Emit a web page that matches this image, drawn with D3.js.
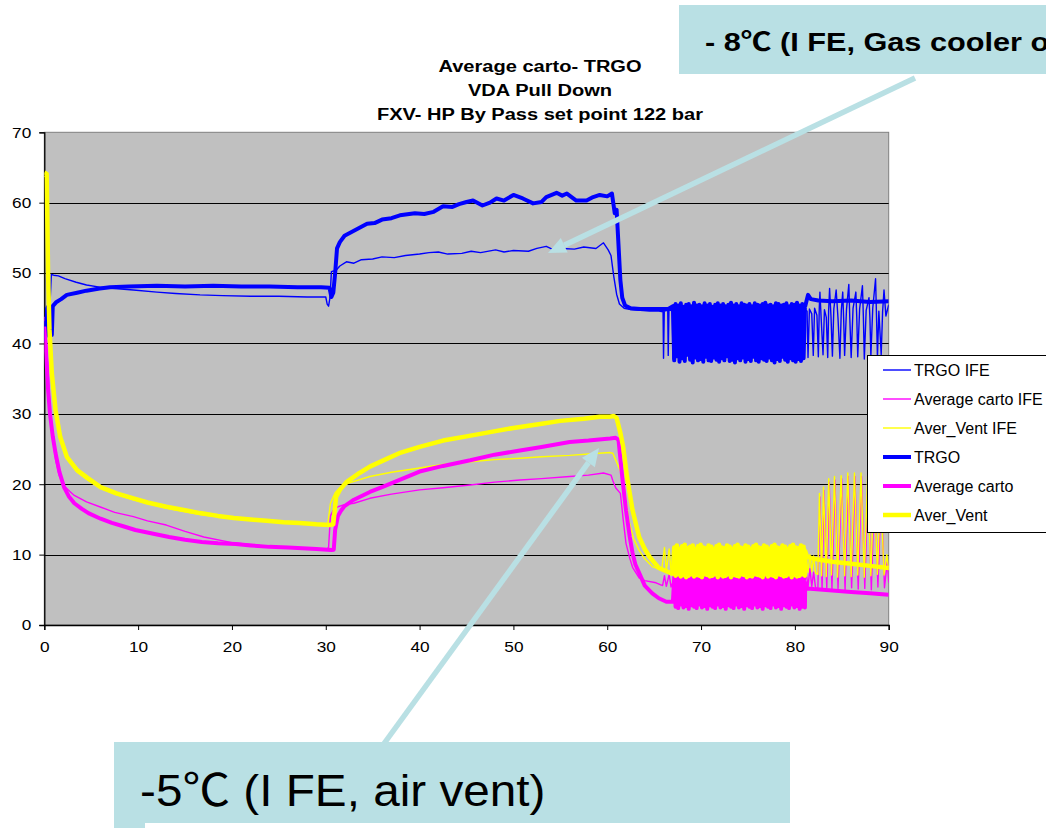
<!DOCTYPE html>
<html><head><meta charset="utf-8">
<script src="https://cdn.jsdelivr.net/npm/d3@7"></script>
<style>body{margin:0;background:#fff;overflow:hidden}svg{display:block}</style>
</head><body><svg id="c" width="1046" height="828"></svg>
<script>
// ---------------- DATA ----------------
const titleLines = ["Average carto- TRGO", "VDA Pull Down", "FXV- HP By Pass set point 122 bar"];
const yTicks = [0, 10, 20, 30, 40, 50, 60, 70];
const xTicks = [0, 10, 20, 30, 40, 50, 60, 70, 80, 90];
const seriesNames = ["TRGO IFE", "Average carto IFE", "Aver_Vent IFE", "TRGO", "Average carto", "Aver_Vent"];
const noteTop = "- 8\u2103 (I FE, Gas cooler outlet)";
const noteBottom = "-5\u2103 (I FE, air vent)";

// thin series (IFE) : [minutes, value]
const trgoIFE = [[0,40.2],[0.2,43.5],[0.4,44.8],[0.6,45.3],[0.75,49.8],[1.0,49.7],[1.5,49.6],[2.2,49.2],[3.4,48.7],[4.5,48.3],[5.9,48.0],[7.5,47.8],[9.5,47.6],[12,47.3],[14,47.1],[16.6,46.9],[19,46.8],[22,46.7],[25,46.7],[28,46.6],[30.0,46.6],[30.15,45.6],[30.3,45.3],[30.45,46.5],[30.6,50.2],[31.1,50.4],[31.5,51.0],[32.2,51.6],[33.0,51.4],[33.8,51.9],[35,52.0],[36,52.3],[37.3,52.2],[38.5,52.5],[40,52.7],[41,52.9],[42,53.0],[43,52.7],[44.5,52.8],[45.5,53.1],[46.5,52.9],[48.1,53.3],[49,53.0],[50,53.2],[51.6,53.1],[52.5,53.5],[53.5,53.8],[54.3,53.3],[55.2,53.5],[56.5,53.4],[57.5,53.7],[58.8,53.5],[59.6,54.3],[60.1,53.3],[60.4,52.5],[60.7,49.5],[61.0,47.0],[61.3,45.6],[61.8,45.0],[62.5,44.8],[63.5,44.7],[64.5,44.6],[65.5,44.6],[65.95,44.5],[66.0,37.9],[66.08,44.6],[66.45,44.7],[66.5,38.3],[66.58,44.8],[66.95,44.6],[67.0,37.8],[67.08,44.7],[70,44.8],[75,44.7],[81.0,44.8],[81.3,44.6],[81.4,38.0],[81.55,44.9],[81.8,44.2],[81.96,38.3],[82.1,45.0],[82.35,44.0],[82.5,38.1],[82.6,45.0],[82.67,47.3],[82.8,43.6],[83.0,38.4],[83.15,44.8],[83.35,43.7],[83.5,38.0],[83.6,44.7],[83.7,47.8],[83.85,43.8],[84.0,38.2],[84.15,44.9],[84.4,47.6],[84.6,43.5],[84.8,37.9],[84.95,44.7],[85.1,47.3],[85.2,43.4],[85.3,38.3],[85.5,44.8],[85.75,48.4],[85.85,43.7],[86.0,38.0],[86.2,45.0],[86.5,47.3],[86.6,43.6],[86.7,38.1],[86.9,44.9],[87.2,48.2],[87.3,43.8],[87.4,37.8],[87.6,44.7],[87.9,46.5],[88.0,43.5],[88.1,38.2],[88.3,45.0],[88.6,49.2],[88.7,43.9],[88.8,38.0],[88.95,44.6],[89.2,38.4],[89.35,44.5],[89.5,47.6],[89.7,43.9],[90.0,45.5]];

const avgCartoIFE = [[0,43.8],[0.2,41],[0.4,36],[0.6,31],[0.9,26.5],[1.2,23.5],[1.6,21.2],[2.1,19.8],[2.7,19.0],[3.2,18.4],[4.5,17.5],[5.9,16.8],[7.5,16.0],[9.5,15.4],[11,14.8],[13,14.2],[15,13.3],[17,12.5],[20,11.7],[23,11.3],[26,11.0],[28,10.9],[30.0,10.7],[30.3,11.0],[30.5,15.5],[30.8,16.3],[31.3,16.8],[32,17.1],[33,17.3],[34.7,18.0],[37,18.6],[40,19.2],[42.5,19.5],[45.4,19.9],[48,20.3],[50.7,20.6],[53,20.8],[56,21.1],[58,21.3],[59.6,21.6],[60.4,21.3],[60.6,20.5],[60.9,19.5],[61.4,18.7],[61.7,15],[62,11.6],[62.4,9.5],[62.7,8.2],[63.4,6.7],[64,6.3],[65.2,6.0],[65.9,5.6],[66.1,7.0],[66.3,5.5],[66.6,7.2],[66.8,5.4],[67.2,6.8],[67.4,5.3],[70,5.5],[75,5.4],[81,5.5],[81.2,7.6],[81.4,5.4],[81.6,8.0],[81.8,5.5],[82.0,7.5],[82.2,5.3],[82.45,5.1],[82.67,18.2],[82.9,5.0],[83.1,19.1],[83.4,5.3],[83.66,20.3],[83.95,5.1],[84.27,20.6],[84.6,5.2],[84.98,20.8],[85.35,5.0],[85.69,21.1],[86.05,5.3],[86.4,21.1],[86.75,5.1],[87.1,21.1],[87.45,5.2],[87.8,20.7],[88.15,5.0],[88.5,20.0],[88.85,5.4],[89.2,19.0],[89.55,5.3],[89.85,9.0],[90,6.0]];

const averVentIFE = [[0,63.8],[0.25,63.5],[0.35,54],[0.5,45],[0.7,38],[0.9,33.5],[1.2,30.0],[1.7,26.3],[2.4,23.6],[3.5,21.7],[4.6,20.6],[6,19.4],[7.7,18.5],[9.5,17.8],[13,16.6],[16.6,15.7],[20.2,15.1],[23.7,14.7],[27.2,14.4],[30.0,14.1],[30.2,14.2],[30.5,17.3],[31.0,18.8],[31.5,19.5],[32.5,20.2],[34.7,21.1],[37,21.7],[40,22.3],[42.5,22.8],[45.4,23.2],[48,23.5],[50.7,23.7],[53,23.9],[56,24.1],[58,24.3],[60.3,24.5],[60.6,24.4],[61.2,22.5],[61.7,21.0],[62.3,14.9],[62.8,12.3],[63.4,10.6],[64.0,9.4],[64.8,8.3],[65.8,7.8],[66.1,11.0],[66.3,7.7],[66.6,10.8],[66.8,7.6],[67.0,7.5],[70,7.6],[75,7.7],[81,7.8],[81.2,9.6],[81.4,7.5],[81.6,10.0],[81.8,7.6],[82.0,9.8],[82.2,7.4],[82.45,7.2],[82.62,18.7],[82.85,7.0],[83.05,19.6],[83.35,6.9],[83.61,20.8],[83.9,7.1],[84.22,21.1],[84.55,6.8],[84.93,21.2],[85.3,7.0],[85.64,21.6],[86.0,6.9],[86.35,21.6],[86.7,7.1],[87.05,21.6],[87.4,6.8],[87.75,21.2],[88.1,7.0],[88.45,20.5],[88.8,7.2],[89.15,19.5],[89.5,7.1],[89.8,10.0],[90,7.8]];

// thick series : [minutes, value]
const trgo = [[0,43.2],[0.15,41.0],[0.3,45.0],[0.5,45.4],[0.7,44.8],[0.8,41.2],[0.9,45.3],[1.3,45.9],[1.8,46.3],[2.4,46.9],[3.5,47.2],[4.5,47.5],[5.9,47.8],[7,48.0],[9,48.1],[12,48.2],[15,48.1],[18,48.2],[21,48.1],[24,48.1],[27,48.0],[29.5,48.0],[30.4,47.9],[30.6,46.6],[30.8,47.2],[31.0,50.0],[31.2,53.5],[31.5,54.4],[32.0,55.3],[33,56.0],[34.4,57.0],[35.2,57.1],[36,57.6],[37,57.8],[37.9,58.2],[39.5,58.5],[40.5,58.4],[41.5,58.7],[42.5,59.5],[43.5,59.4],[44.2,59.8],[45,60.1],[45.7,60.3],[46.7,59.6],[47.5,60.0],[48.2,60.6],[49,60.3],[50,61.1],[51,60.6],[52.1,59.9],[53,60.1],[53.5,60.8],[54.6,61.4],[55.2,61.0],[55.7,61.3],[56.7,60.3],[57.8,60.3],[58.5,60.8],[59.2,61.1],[60.0,60.9],[60.5,61.3],[60.8,58.5],[61.0,59.0],[61.2,54.0],[61.4,49.0],[61.6,46.5],[61.9,45.4],[62.5,45.0],[63.5,44.9],[65,44.9],[66.5,44.9]];
const trgoAfter = [[81.1,45.3],[81.4,46.9],[81.7,46.3],[82.5,46.1],[84,46.0],[86,46.1],[88,45.9],[90,46.0]];
const trgoCycling = [45.3,37.6,45.6,38.2,45.4,37.4,45.7,37.9,45.2,37.5,45.5,38.4,45.6,37.7,45.3,37.3,45.8,38.0,45.4,37.6,45.5,37.8,45.3,37.4,45.7,38.1,45.4,37.6,45.6,37.5,45.2,38.0,45.5,37.7,45.7,37.4,45.4,37.9,45.6,37.6,45.3,38.2,45.5,37.5,45.8,37.7,45.4,37.3,45.6,37.9,45.3,37.6,45.7,38.0,45.5,37.4,45.4,37.8,45.6,37.5,45.3,38.1,45.7,37.6,45.5,37.4,45.4,37.9,45.6,37.7,45.8,37.5,45.4,38.0,45.5,37.6,45.3,37.3,45.7,37.8,45.6,37.5,45.4,38.1,45.5,37.7,45.7,37.4,45.3,37.9,45.6,37.6,45.5,37.4,45.8,37.8,45.4,37.5,45.6,37.9,45.3];

const avgCarto = [[0,42.4],[0.2,38.5],[0.4,33.5],[0.6,30.1],[0.9,26.8],[1.2,24.4],[1.6,21.8],[2.1,19.6],[2.6,18.3],[3.2,17.3],[4.0,16.5],[4.7,15.9],[6,15.1],[7.2,14.5],[8.5,14.0],[9.7,13.5],[11.5,13.0],[13.3,12.5],[15,12.1],[16.8,11.8],[18.5,11.6],[20.4,11.5],[22,11.3],[24,11.1],[26,11.0],[27.5,10.9],[29,10.8],[30.6,10.65],[30.85,10.7],[31.0,13.5],[31.3,15.5],[31.6,16.2],[32.0,16.9],[33.0,17.8],[34.7,18.9],[36,19.6],[38,20.7],[40,21.8],[42.5,22.6],[45.4,23.4],[48,24.2],[50.7,24.8],[53,25.3],[56,26.0],[58,26.2],[60.3,26.5],[60.9,26.6],[61.2,26.3],[61.6,21.0],[62.0,16.3],[62.4,12.5],[62.7,10.2],[63.0,8.6],[63.4,7.4],[64.0,5.6],[64.8,4.5],[65.5,3.8],[66.3,3.3]];
const avgCartoAfter = [[81.1,6.0],[81.3,5.2],[82,5.1],[84,4.9],[86,4.7],[88,4.5],[90,4.3]];
const avgCartoCycling = [3.3,6.8,2.6,7.0,2.4,6.6,2.9,6.9,2.5,7.1,2.7,6.7,2.3,6.8,2.8,7.0,2.6,6.6,2.4,6.9,2.9,7.1,2.5,6.7,2.7,6.8,2.3,7.0,2.8,6.6,2.6,6.9,2.4,7.1,2.9,6.7,2.5,6.8,2.7,7.0,2.3,6.6,2.8,6.9,2.6,7.1,2.4,6.7,2.9,6.8,2.5,7.0,2.7,6.6,2.3,6.9,2.8,7.1,2.6,6.7,2.4,6.8,2.9,7.0,2.5,6.6,2.7,6.9,2.3,7.1,2.8,6.7,2.6,6.8,2.4,7.0,2.9,6.6,2.5,6.9,2.7,7.1,2.3,6.7,2.8,6.8,2.6,7.0,2.4,6.6,2.9,6.9,2.5,7.1,2.7,6.7,2.3,6.8,2.6,7.0,2.5];

const averVent = [[0,64.3],[0.25,64.1],[0.32,58],[0.4,50],[0.55,42],[0.8,35.8],[1.2,30.5],[1.7,26.7],[2.4,23.9],[3.5,22.0],[4.6,20.9],[6,19.6],[7.7,18.7],[9.5,18.0],[11,17.4],[13,16.8],[15,16.3],[16.6,15.9],[18.5,15.5],[20.2,15.2],[22,15.0],[23.7,14.8],[25.5,14.6],[27.2,14.5],[29,14.3],[30.4,14.2],[30.8,14.3],[31.1,18.2],[31.5,19.2],[32.2,20.3],[33.6,21.6],[34.7,22.5],[36.5,23.6],[38,24.5],[40,25.3],[42.5,26.2],[45,26.8],[47.5,27.4],[50,28.0],[52.5,28.5],[55,29.0],[57.5,29.3],[59.2,29.6],[60.3,29.6],[60.7,29.7],[61.0,29.4],[61.4,27.3],[61.7,25.3],[62.1,21.1],[62.7,16.3],[63.4,12.5],[64.0,10.8],[64.5,9.7],[65.5,8.1],[66.9,7.3]];
const averVentAfter = [[81.1,10.5],[81.3,9.7],[82,9.4],[84,9.0],[86,8.7],[88,8.4],[90,8.1]];
const averVentCycling = [7.3,11.0,7.0,11.3,7.2,10.8,6.9,11.2,7.1,11.4,6.8,10.9,7.0,11.1,7.2,11.3,6.9,10.8,7.1,11.2,7.0,11.4,6.8,11.0,7.2,10.9,7.1,11.3,6.9,11.1,7.0,10.8,7.2,11.2,6.8,11.4,7.1,11.0,6.9,10.9,7.0,11.3,7.2,11.1,6.8,10.8,7.1,11.2,7.0,11.4,6.9,11.0,7.2,10.9,7.1,11.3,6.8,11.1,7.0,10.8,6.9,11.2,7.2,11.4,7.1,11.0,7.0,10.9,6.8,11.3,7.2,11.1,6.9,10.8,7.1,11.2,7.0,11.4,6.8,11.0,7.2,10.9,7.1,11.3,6.9,11.1,7.0,10.8,7.2,11.2,6.8,11.4,7.1,11.0,6.9,10.9,7.0,11.3,7.2,11.1,7.0];
const cyclingWindow = [67.0, 81.07];

// ---------------- CHART ----------------
const W = 1046, H = 828;
const plot = {left: 44.3, right: 888.7, top: 132.3, bottom: 625};
const svg = d3.select("#c");
const FONT = "'Liberation Sans', Arial, 'Noto Sans CJK SC', sans-serif";

const x = d3.scaleLinear().domain([0, 90]).range([plot.left, plot.right]);
const y = d3.scaleLinear().domain([0, 70]).range([plot.bottom, plot.top]);

function withCycling(before, cyc, after) {
  const [a, b] = cyclingWindow;
  const mid = cyc.map((v, i) => [a + i * (b - a) / (cyc.length - 1), v]);
  return before.concat(mid, after);
}

svg.append("rect").attr("width", W).attr("height", H).attr("fill", "#fff");
svg.append("rect").attr("x", plot.left).attr("y", plot.top)
  .attr("width", plot.right - plot.left).attr("height", plot.bottom - plot.top)
  .attr("fill", "#C0C0C0").attr("stroke", "#808080").attr("stroke-width", 1);

svg.append("g").selectAll("line").data(yTicks.filter(d => d > 0 && d < 70)).join("line")
  .attr("x1", plot.left).attr("x2", plot.right)
  .attr("y1", d => Math.round(y(d)) + 0.5).attr("y2", d => Math.round(y(d)) + 0.5)
  .attr("stroke", "#000").attr("stroke-width", 1);

const sx = 1.15;
const yAxis = d3.axisLeft(y).tickValues(yTicks).tickSize(5).tickPadding(8);
const xAxis = d3.axisBottom(x).tickValues(xTicks).tickSize(5).tickPadding(11);
const gy = svg.append("g").attr("transform", `translate(${plot.left},0)`).call(yAxis);
const gx = svg.append("g").attr("transform", `translate(0,${plot.bottom})`).call(xAxis);
[gy, gx].forEach(g => {
  g.select(".domain").attr("stroke", "#000").attr("stroke-width", 1.3);
  g.selectAll(".tick line").attr("stroke", "#000");
  g.selectAll("text").attr("font-family", FONT).attr("font-size", 15).attr("fill", "#000");
});
gy.selectAll(".tick text").attr("x", -13 / sx).attr("transform", `scale(${sx},1)`);
gx.selectAll(".tick text").attr("transform", `scale(${sx},1)`);

svg.append("clipPath").attr("id", "pc").append("rect")
  .attr("x", plot.left).attr("y", plot.top - 2)
  .attr("width", plot.right - plot.left).attr("height", plot.bottom - plot.top + 2);

const line = d3.line().x(d => x(d[0])).y(d => y(d[1]));
const series = [
  {name: seriesNames[0], data: trgoIFE, color: "#0000FF", w: 1.4},
  {name: seriesNames[1], data: avgCartoIFE, color: "#FF00FF", w: 1.4},
  {name: seriesNames[2], data: averVentIFE, color: "#FFFF00", w: 1.4},
  {name: seriesNames[3], data: withCycling(trgo, trgoCycling, trgoAfter), color: "#0000FF", w: 4},
  {name: seriesNames[4], data: withCycling(avgCarto, avgCartoCycling, avgCartoAfter), color: "#FF00FF", w: 4},
  {name: seriesNames[5], data: withCycling(averVent, averVentCycling, averVentAfter), color: "#FFFF00", w: 4.5}
];
const gl = svg.append("g").attr("clip-path", "url(#pc)");
gl.selectAll("path").data(series).join("path")
  .attr("d", d => line(d.data)).attr("fill", "none")
  .attr("stroke", d => d.color).attr("stroke-width", d => d.w)
  .attr("stroke-linejoin", "round");

// title
svg.append("g").selectAll("text").data(titleLines).join("text")
  .attr("transform", (d, i) => `translate(540,${72 + i * 24}) scale(1.18,1)`)
  .attr("text-anchor", "middle").attr("font-family", FONT)
  .attr("font-weight", "bold").attr("font-size", 17).text(d => d);

// legend
const lg = svg.append("g");
lg.append("rect").attr("x", 867.5).attr("y", 355.5).attr("width", 200).attr("height", 177)
  .attr("fill", "#fff").attr("stroke", "#000");
const le = lg.selectAll("g").data(series).join("g")
  .attr("transform", (d, i) => `translate(0,${370 + i * 29})`);
le.append("line").attr("x1", 883).attr("x2", 911).attr("y1", 0).attr("y2", 0)
  .attr("stroke", d => d.color).attr("stroke-width", d => d.w);
le.append("text").attr("x", 914).attr("y", 5.5).attr("font-family", FONT)
  .attr("font-size", 16).text(d => d.name);

// annotations
const note = "#B9E0E4";
function arrow(x1, y1, x2, y2) {
  const a = Math.atan2(y2 - y1, x2 - x1), L = 18, hw = 8;
  const bx = x2 - L * Math.cos(a), by = y2 - L * Math.sin(a);
  svg.append("line").attr("x1", x1).attr("y1", y1).attr("x2", bx).attr("y2", by)
    .attr("stroke", note).attr("stroke-width", 5.5);
  const px = -Math.sin(a) * hw, py = Math.cos(a) * hw;
  svg.append("polygon").attr("fill", note)
    .attr("points", `${x2},${y2} ${bx + px},${by + py} ${bx - px},${by - py}`);
}
svg.append("rect").attr("x", 679).attr("y", 5).attr("width", 420).attr("height", 69).attr("fill", note);
svg.append("text").attr("transform", "translate(705,51) scale(1.18,1)").attr("font-family", FONT)
  .attr("font-weight", "bold").attr("font-size", 26).text(noteTop);
arrow(915, 78, 548, 253);
arrow(383, 745, 599, 448);
svg.append("rect").attr("x", 114).attr("y", 742).attr("width", 676).attr("height", 86).attr("fill", note);
svg.append("rect").attr("x", 145).attr("y", 823).attr("width", 660).attr("height", 5).attr("fill", "#fff");
svg.append("text").attr("transform", "translate(140,806) scale(1.084,1)").attr("font-family", FONT)
  .attr("font-size", 44).text(noteBottom);
</script>
</body></html>
